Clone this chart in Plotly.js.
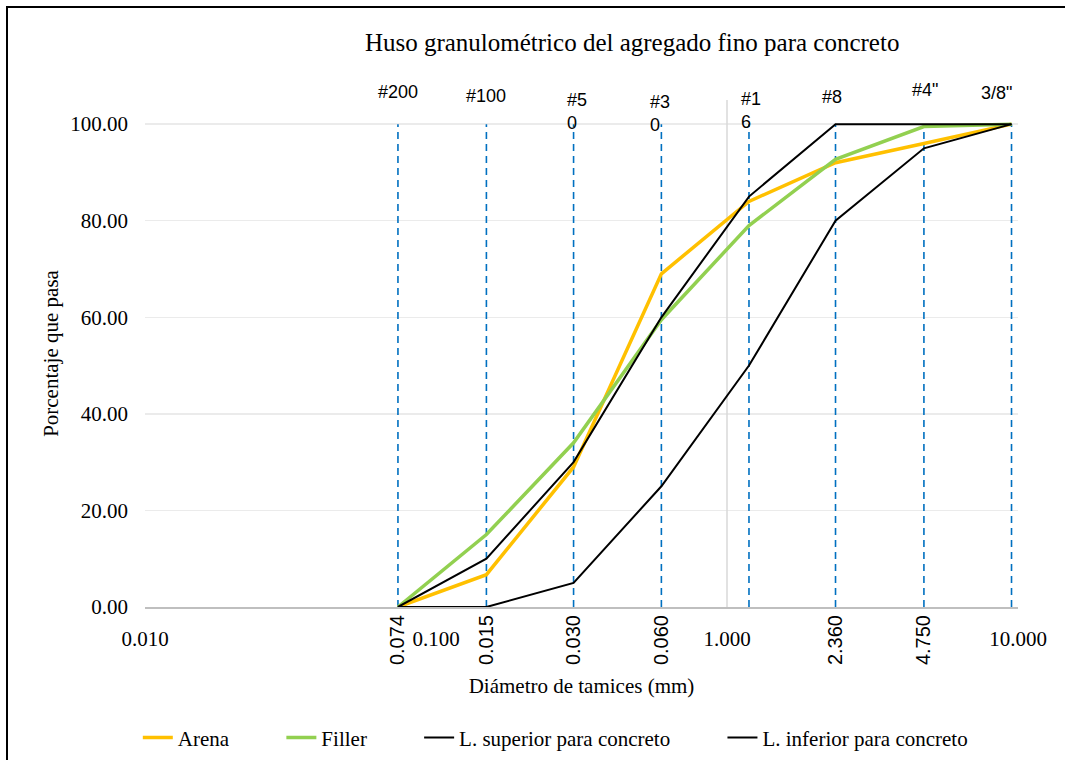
<!DOCTYPE html>
<html><head><meta charset="utf-8">
<script src="https://cdn.plot.ly/plotly-3.0.1.min.js"></script>
<style>
html,body{margin:0;padding:0;background:#fff;}
#chart{width:1065px;height:760px;}
#frame{position:absolute;left:6px;top:6px;width:1100px;height:800px;border-left:2px solid #000;border-top:2px solid #000;pointer-events:none;}
</style>
</head><body><div id="chart"></div><div id="frame"></div>
<script>
// Sieves
const sieveNames = ['#200', '#100', '#50', '#30', '#16', '#8', '#4"', '3/8"'];
const sieveLabels = ['#200', '#100', '#5<br>0', '#3<br>0', '#1<br>6', '#8', '#4"', '3/8"'];
const sieveSizes = [0.074, 0.149, 0.297, 0.595, 1.19, 2.36, 4.75, 9.5];
// Series (percent passing)
const arena  = [0, 6.7, 29, 69, 84, 92, 96, 100];
const filler = [0, 15, 34, 59.5, 79, 92.7, 99.5, 100];
const limSup = [0, 10, 30, 60, 85, 100, 100, 100];
const limInf = [0, 0, 5, 25, 50, 80, 95, 100];
// Tick labels
const mainTickVals = [0.01, 0.1, 1, 10];
const mainTickText = ['0.010', '0.100', '1.000', '10.000'];
const sizeTickVals = [0.074, 0.149, 0.297, 0.595, 2.36, 4.75];
const sizeTickText = ['0.074', '0.015', '0.030', '0.060', '2.360', '4.750'];
const yTickVals = [0, 20, 40, 60, 80, 100];
const yTickText = ['0.00', '20.00', '40.00', '60.00', '80.00', '100.00'];
const seriesNames = ['Arena', 'Filler', 'L. superior para concreto', 'L. inferior para concreto'];

const SERIF = 'Liberation Serif, Times New Roman, serif';
const SANS = 'Liberation Sans, Arial, sans-serif';
const PAD = '\u00a0'.repeat(9);

const traces = [];
// y-axis line crossing at x = 1
traces.push({x: [1, 1], y: [0, 105], mode: 'lines', line: {color: '#D9D9D9', width: 1.5},
  showlegend: false, hoverinfo: 'skip'});
// dashed sieve lines
sieveSizes.forEach(s => {
  traces.push({x: [s, s], y: [0, 100], mode: 'lines',
    line: {color: '#0070C0', width: 1.6, dash: '7px,5px'}, showlegend: false, hoverinfo: 'skip'});
});
traces.push({x: sieveSizes, y: arena, name: seriesNames[0] + PAD, mode: 'lines', line: {color: '#FFC000', width: 3.5}});
traces.push({x: sieveSizes, y: filler, name: seriesNames[1] + PAD, mode: 'lines', line: {color: '#92D050', width: 3.5}});
traces.push({x: sieveSizes, y: limSup, name: seriesNames[2] + PAD, mode: 'lines', line: {color: '#000000', width: 2}});
traces.push({x: sieveSizes, y: limInf, name: seriesNames[3], mode: 'lines', line: {color: '#000000', width: 2}});
// carrier for the rotated size labels axis
traces.push({x: sizeTickVals, y: sizeTickVals.map(() => 0), xaxis: 'x2', mode: 'none',
  showlegend: false, hoverinfo: 'skip'});

const dx = [0, 0, 3, -1, 2, -4, 1, -15];
const dy = [32, 28, 13, 11, 14, 27, 34, 31];
const annotations = sieveLabels.map((t, i) => ({
  x: Math.log10(sieveSizes[i]), y: 100, xref: 'x', yref: 'y', text: t, showarrow: false,
  xanchor: 'center', yanchor: 'middle', align: 'left', xshift: dx[i], yshift: dy[i],
  font: {family: SANS, size: 18, color: '#000'}
}));

const layout = {
  width: 1065, height: 760,
  margin: {l: 145, r: 47, t: 100, b: 153, autoexpand: false},
  paper_bgcolor: '#fff', plot_bgcolor: '#fff',
  title: {text: 'Huso granulométrico del agregado fino para concreto', xref: 'paper', x: 0.558,
    xanchor: 'center', yref: 'container', y: 0.945, yanchor: 'middle',
    font: {family: SERIF, size: 25, color: '#000'}},
  xaxis: {type: 'log', range: [-2, 1], tickvals: mainTickVals, ticktext: mainTickText,
    tickfont: {family: SERIF, size: 21, color: '#000'}, showgrid: false, zeroline: false,
    showline: true, linecolor: '#BFBFBF', linewidth: 1.5, ticks: '', ticklabelstandoff: 12,
    automargin: false,
    title: {text: 'Diámetro de tamices (mm)', font: {family: SERIF, size: 21, color: '#000'}, standoff: 28}},
  xaxis2: {type: 'log', range: [-2, 1], overlaying: 'x', anchor: 'y', side: 'bottom',
    tickvals: sizeTickVals, ticktext: sizeTickText, tickangle: -90,
    tickfont: {family: SANS, size: 20, color: '#000'}, showgrid: false, zeroline: false,
    showline: false, ticks: '', ticklabelstandoff: 3, automargin: false},
  yaxis: {range: [0, 105], tickvals: yTickVals, ticktext: yTickText,
    tickfont: {family: SERIF, size: 21, color: '#000'}, gridcolor: '#EBEBEB', gridwidth: 1.5,
    zeroline: false, showline: false, ticks: '', ticklabelstandoff: 16, automargin: false,
    title: {text: 'Porcentaje que pasa', font: {family: SERIF, size: 21, color: '#000'}, standoff: 5}},
  legend: {orientation: 'h', x: 0.47, xanchor: 'center', y: -0.258, yanchor: 'middle',
    font: {family: SERIF, size: 21, color: '#000'}, bgcolor: 'rgba(0,0,0,0)'},
  annotations: annotations,
  showlegend: true
};

Plotly.newPlot('chart', traces, layout, {displayModeBar: false, staticPlot: true});
</script>
</body></html>
